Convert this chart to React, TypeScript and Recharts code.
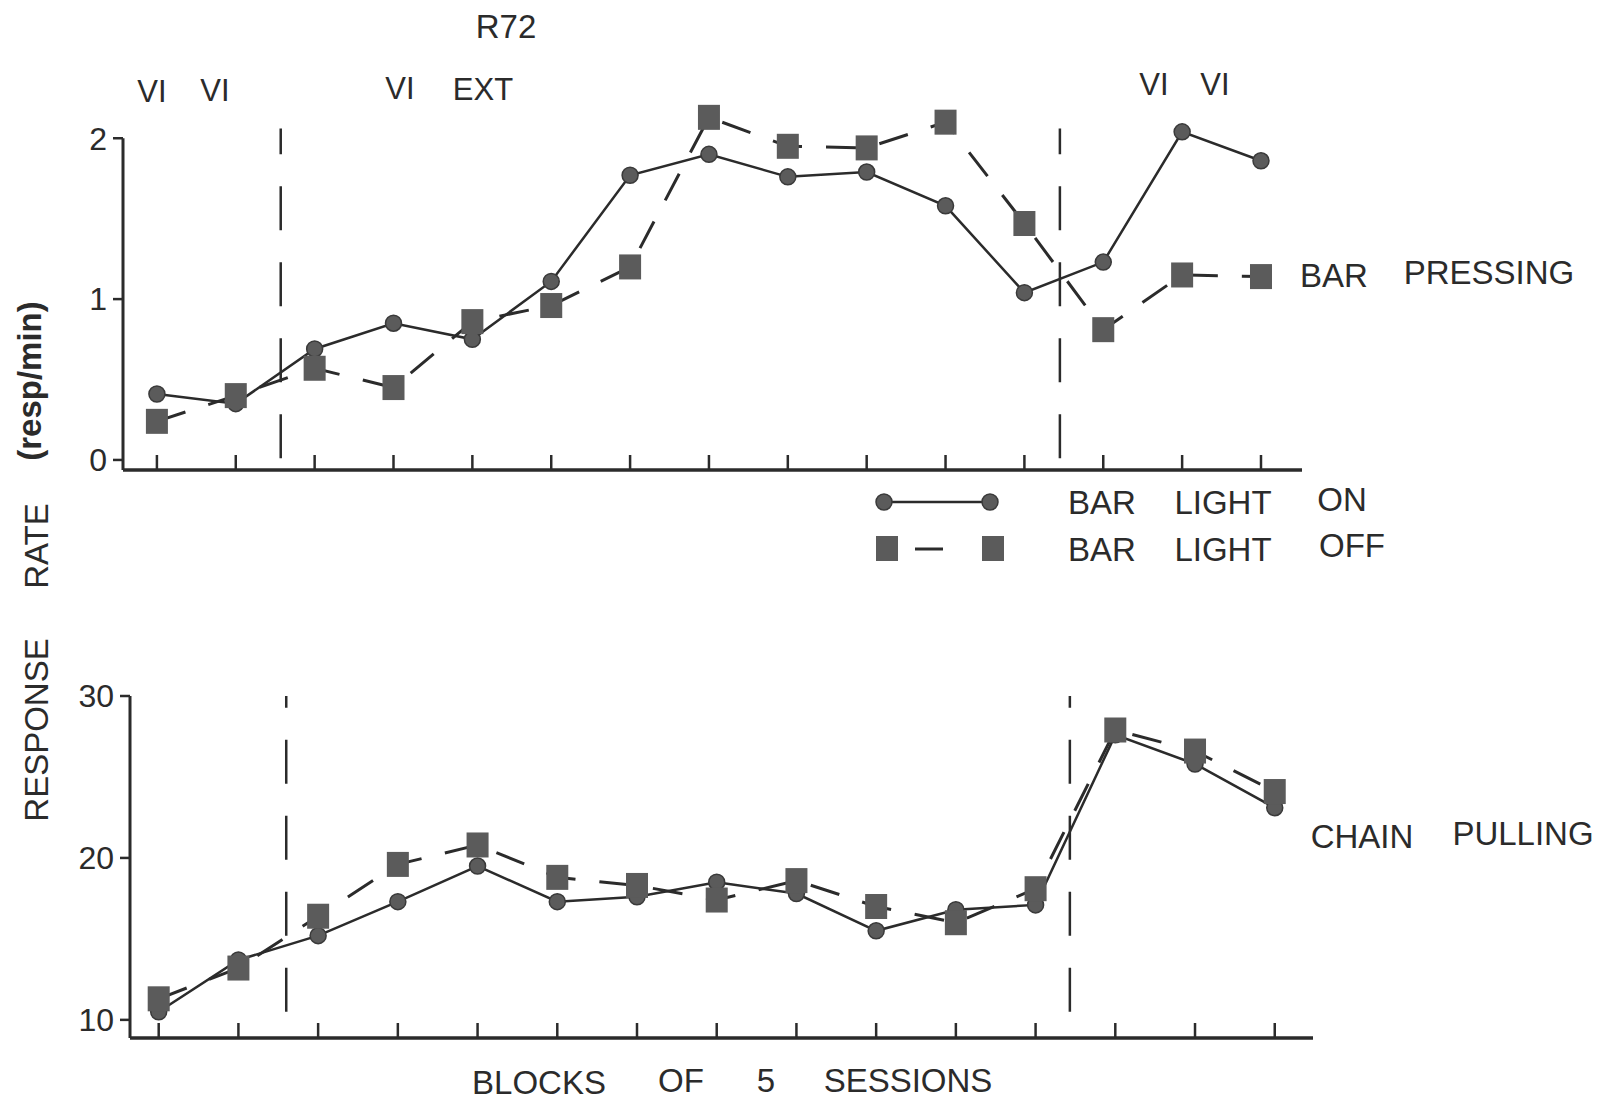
import React from "react"
import { LineChart, Line, XAxis, YAxis, ReferenceLine } from "recharts"

// blocks of 5 sessions (15 blocks)
const blocks = [0, 1, 2, 3, 4, 5, 6, 7, 8, 9, 10, 11, 12, 13, 14]

// bar pressing, resp/min
const barLightOn = [0.41, 0.35, 0.69, 0.85, 0.75, 1.11, 1.77, 1.9, 1.76, 1.79, 1.58, 1.04, 1.23, 2.04, 1.86]
const barLightOff = [0.24, 0.4, 0.57, 0.45, 0.86, 0.96, 1.2, 2.13, 1.95, 1.94, 2.1, 1.47, 0.81, 1.15, 1.14]

// chain pulling, resp/min
const chainLightOn = [10.5, 13.7, 15.2, 17.3, 19.5, 17.3, 17.6, 18.5, 17.8, 15.5, 16.8, 17.1, 27.6, 25.8, 23.1]
const chainLightOff = [11.3, 13.2, 16.4, 19.6, 20.8, 18.8, 18.3, 17.4, 18.6, 17.0, 16.0, 18.1, 27.9, 26.6, 24.1]

const topTicks = [0, 1, 2]
const bottomTicks = [10, 20, 30]
// condition changes between blocks
const phaseBreaksTop = [1.57, 11.45]
const phaseBreaksBottom = [1.6, 11.43]

const ink = "#2b2b2b"
const markFill = "#5b5b5b"
const font = '"Liberation Sans", Arial, sans-serif'

const topData = blocks.map((b, i) => ({ block: b, on: barLightOn[i], off: barLightOff[i] }))
const bottomData = blocks.map((b, i) => ({ block: b, on: chainLightOn[i], off: chainLightOff[i] }))

function SquareDot(props: any) {
  const { cx, cy } = props
  if (cx == null || cy == null) return null
  return <rect x={cx - 11} y={cy - 12.5} width={22} height={25} fill={markFill} />
}

// x axis has tick marks but no labels
const NoLabel = () => <g />

function Txt({ x, y, size = 33, bold = false, rotate = 0, children }: any) {
  return (
    <div
      style={{
        position: "absolute",
        left: x,
        top: y,
        transform: `translate(-50%, -50%) rotate(${rotate}deg)`,
        fontFamily: font,
        fontSize: size,
        fontWeight: bold ? 700 : 400,
        color: ink,
        whiteSpace: "nowrap",
        lineHeight: 1,
      }}
    >
      {children}
    </div>
  )
}

const tickStyle = { fontSize: 32, fill: ink, fontFamily: font }

export default function App() {
  return (
    <div style={{ position: "absolute", left: 0, top: 0, width: 1608, height: 1104, background: "#fff", overflow: "hidden" }}>
      {/* top panel: bar pressing */}
      <div style={{ position: "absolute", left: 0, top: 0 }}>
        <LineChart width={1608} height={520} data={topData} margin={{ top: 90, right: 306, bottom: 50, left: 83 }}>
          <XAxis
            type="number"
            dataKey="block"
            domain={[-0.43, 14.52]}
            ticks={blocks}
            tick={NoLabel}
            mirror
            height={2}
            tickSize={15}
            axisLine={{ stroke: ink, strokeWidth: 3.5 }}
            tickLine={{ stroke: ink, strokeWidth: 2.5 }}
          />
          <YAxis
            domain={[-0.0625, 2.3]}
            ticks={topTicks}
            width={40}
            axisLine={false}
            tickSize={10}
            tickMargin={6}
            tick={tickStyle}
            tickLine={{ stroke: ink, strokeWidth: 2.5 }}
          />
          <ReferenceLine segment={[{ x: -0.43, y: -0.0625 }, { x: -0.43, y: 2 }]} stroke={ink} strokeWidth={3} />
          {phaseBreaksTop.map((b) => (
            <ReferenceLine key={b} segment={[{ x: b, y: 0.01 }, { x: b, y: 2.06 }]} stroke={ink} strokeWidth={2.5} strokeDasharray="44 32" />
          ))}
          <Line type="linear" dataKey="on" stroke={ink} strokeWidth={2.5} dot={{ r: 8, fill: markFill, stroke: "#3a3a3a", strokeWidth: 1.5 }} isAnimationActive={false} />
          <Line type="linear" dataKey="off" stroke={ink} strokeWidth={3} strokeDasharray="30 24" dot={<SquareDot />} isAnimationActive={false} />
        </LineChart>
      </div>

      {/* bottom panel: chain pulling */}
      <div style={{ position: "absolute", left: 0, top: 560 }}>
        <LineChart width={1608} height={544} data={bottomData} margin={{ top: 136, right: 295, bottom: 66, left: 90 }}>
          <XAxis
            type="number"
            dataKey="block"
            domain={[-0.36, 14.48]}
            ticks={blocks}
            tick={NoLabel}
            mirror
            height={2}
            tickSize={15}
            axisLine={{ stroke: ink, strokeWidth: 3.5 }}
            tickLine={{ stroke: ink, strokeWidth: 2.5 }}
          />
          <YAxis
            domain={[8.88, 30]}
            ticks={bottomTicks}
            width={40}
            axisLine={{ stroke: ink, strokeWidth: 3 }}
            tickSize={10}
            tickMargin={6}
            tick={tickStyle}
            tickLine={{ stroke: ink, strokeWidth: 2.5 }}
          />
          {phaseBreaksBottom.map((b) => (
            <ReferenceLine key={b} segment={[{ x: b, y: 10.5 }, { x: b, y: 30 }]} stroke={ink} strokeWidth={2.5} strokeDasharray="44 32" />
          ))}
          <Line type="linear" dataKey="on" stroke={ink} strokeWidth={2.5} dot={{ r: 8, fill: markFill, stroke: "#3a3a3a", strokeWidth: 1.5 }} isAnimationActive={false} />
          <Line type="linear" dataKey="off" stroke={ink} strokeWidth={3} strokeDasharray="30 24" dot={<SquareDot />} isAnimationActive={false} />
        </LineChart>
      </div>

      {/* legend */}
      <svg style={{ position: "absolute", left: 860, top: 480 }} width={160} height={100}>
        <line x1={24} y1={22} x2={130} y2={22} stroke={ink} strokeWidth={2.5} />
        <circle cx={24} cy={22} r={8} fill={markFill} stroke="#3a3a3a" strokeWidth={1.5} />
        <circle cx={130} cy={22} r={8} fill={markFill} stroke="#3a3a3a" strokeWidth={1.5} />
        <rect x={16} y={56} width={22} height={25} fill={markFill} />
        <line x1={55} y1={69} x2={83} y2={69} stroke={ink} strokeWidth={3} />
        <rect x={122} y={56} width={22} height={25} fill={markFill} />
      </svg>
      <Txt x={1102} y={502}>BAR</Txt>
      <Txt x={1223} y={502}>LIGHT</Txt>
      <Txt x={1342} y={499}>ON</Txt>
      <Txt x={1102} y={549}>BAR</Txt>
      <Txt x={1223} y={549}>LIGHT</Txt>
      <Txt x={1352} y={545}>OFF</Txt>

      {/* titles and condition labels */}
      <Txt x={506} y={26}>R72</Txt>
      <Txt x={152} y={91} size={31}>VI</Txt>
      <Txt x={215} y={90} size={31}>VI</Txt>
      <Txt x={400} y={88} size={31}>VI</Txt>
      <Txt x={483} y={89} size={31}>EXT</Txt>
      <Txt x={1154} y={84} size={31}>VI</Txt>
      <Txt x={1215} y={84} size={31}>VI</Txt>

      <Txt x={1334} y={275}>BAR</Txt>
      <Txt x={1489} y={272}>PRESSING</Txt>
      <Txt x={1362} y={836}>CHAIN</Txt>
      <Txt x={1523} y={833}>PULLING</Txt>

      <Txt x={539} y={1082}>BLOCKS</Txt>
      <Txt x={681} y={1080}>OF</Txt>
      <Txt x={766} y={1080}>5</Txt>
      <Txt x={908} y={1080}>SESSIONS</Txt>

      <Txt x={36} y={546} rotate={-90}>RATE</Txt>
      <Txt x={36} y={730} rotate={-90}>RESPONSE</Txt>
      <Txt x={29} y={381} rotate={-90} bold>(resp/min)</Txt>
    </div>
  )
}
